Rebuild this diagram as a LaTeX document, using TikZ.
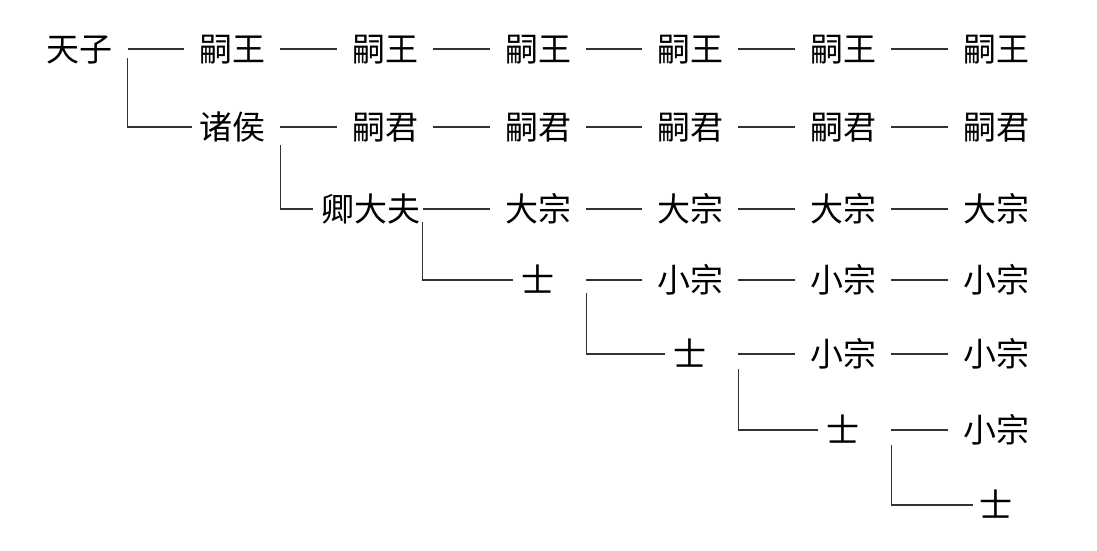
\documentclass[tikz,border=0pt]{standalone}
\usepackage{fontspec}
\usepackage{tikz}
\newfontfamily\cjk{Noto Sans CJK SC}

\begin{document}
\begin{tikzpicture}[x=1pt, y=-1pt,
    every node/.style={font=\cjk\fontsize{33pt}{40pt}\selectfont, inner xsep=2pt, inner ysep=0pt,
        text height=29pt, text depth=4pt, minimum width=96pt},
    branch/.style={line width=1.4pt, black!80}]
    \useasboundingbox (0,0) rectangle (1097,550);

    % Row 1
    \node (r1c0) at (79.5,49) {天子};
    \node (r1c1) at (232,49) {嗣王};
    \node (r1c2) at (385,49) {嗣王};
    \node (r1c3) at (538,49) {嗣王};
    \node (r1c4) at (690,49) {嗣王};
    \node (r1c5) at (843,49) {嗣王};
    \node (r1c6) at (996,49) {嗣王};

    % Row 2
    \node (r2c1) at (232,127) {诸侯};
    \node (r2c2) at (385,127) {嗣君};
    \node (r2c3) at (538,127) {嗣君};
    \node (r2c4) at (690,127) {嗣君};
    \node (r2c5) at (843,127) {嗣君};
    \node (r2c6) at (996,127) {嗣君};

    % Row 3
    \node (r3c2) at (371,209) {卿大夫};
    \node (r3c3) at (538,209) {大宗};
    \node (r3c4) at (690,209) {大宗};
    \node (r3c5) at (843,209) {大宗};
    \node (r3c6) at (996,209) {大宗};

    % Rows 4-7
    \node (r4c3) at (538,280) {士};
    \node (r4c4) at (690,280) {小宗};
    \node (r4c5) at (843,280) {小宗};
    \node (r4c6) at (996,280) {小宗};
    \node (r5c4) at (690,354) {士};
    \node (r5c5) at (843,354) {小宗};
    \node (r5c6) at (996,354) {小宗};
    \node (r6c5) at (843,430) {士};
    \node (r6c6) at (996,430) {小宗};
    \node (r7c6) at (996,505) {士};

    % Dashes along each row
    \draw[branch] (r1c0) -- (r1c1) -- (r1c2) -- (r1c3) -- (r1c4) -- (r1c5) -- (r1c6);
    \draw[branch] (r2c1) -- (r2c2) -- (r2c3) -- (r2c4) -- (r2c5) -- (r2c6);
    \draw[branch] (r3c2) -- (r3c3) -- (r3c4) -- (r3c5) -- (r3c6);
    \draw[branch] (r4c3) -- (r4c4) -- (r4c5) -- (r4c6);
    \draw[branch] (r5c4) -- (r5c5) -- (r5c6);
    \draw[branch] (r6c5) -- (r6c6);

    % Branches down to the next rank
    \draw[branch] ([yshift=-9pt]r1c0.east) |- ([xshift=-7pt]r2c1.text |- r2c1.center);
    \draw[branch] ([yshift=-18pt]r2c1.east) |- ([xshift=-9pt]r3c2.text |- r3c2.center);
    \draw[branch] ([yshift=-13pt]r3c2.east) |- ([xshift=-9pt]r4c3.text |- r4c3.center);
    \draw[branch] ([yshift=-13pt]r4c3.east) |- ([xshift=-9pt]r5c4.text |- r5c4.center);
    \draw[branch] ([yshift=-15pt]r5c4.east) |- ([xshift=-9pt]r6c5.text |- r6c5.center);
    \draw[branch] ([yshift=-15pt]r6c5.east) |- ([xshift=-7pt]r7c6.text |- r7c6.center);
\end{tikzpicture}
\end{document}
